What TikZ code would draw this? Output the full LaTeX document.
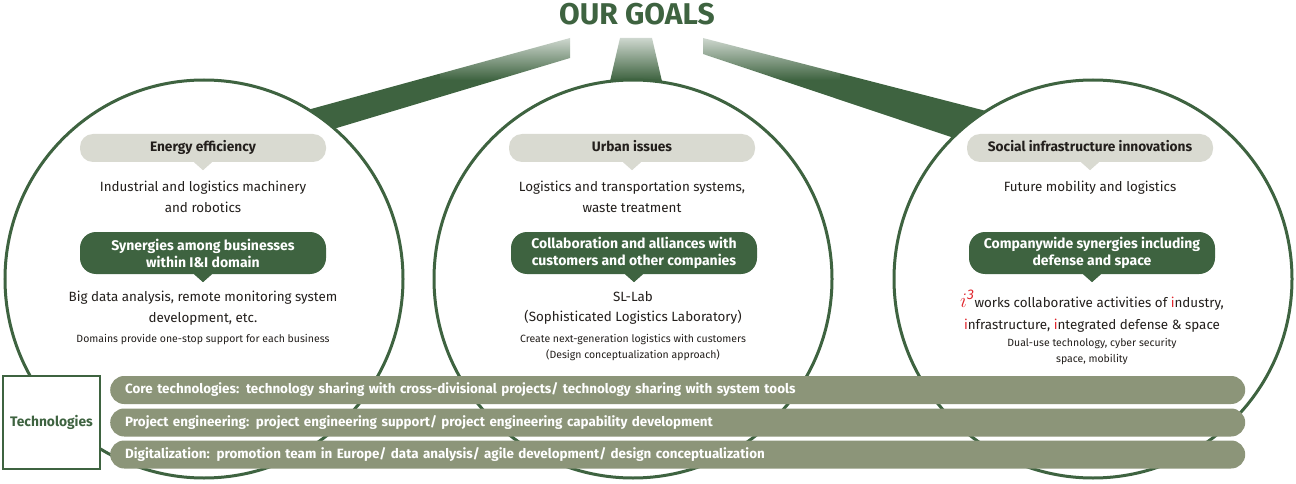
\documentclass[tikz,border=0pt]{standalone}
\usepackage{fontspec}
\setmainfont{Fira Sans}
\usepackage{tikz}
\usetikzlibrary{positioning,fadings}

\definecolor{goalgreen}{HTML}{3E6340}
\definecolor{pillgrey}{HTML}{D9DAD1}
\definecolor{barolive}{HTML}{8C9579}
\definecolor{textdark}{HTML}{231F1C}
\definecolor{ired}{HTML}{E0242B}

\begin{document}
\begin{tikzpicture}[
x=1pt, y=-1pt,
goal-circle/.style = {circle, draw=goalgreen, line width=3pt, fill=white, minimum size=398pt, inner sep=0pt},
topic-pill/.style = {rounded corners=13pt, fill=pillgrey, minimum width=246pt, minimum height=28pt, inner sep=0pt, text height=10pt, text depth=2pt, text=textdark, font=\bfseries\fontsize{13.7}{15}\selectfont},
way-pill/.style = {rounded corners=16pt, fill=goalgreen, minimum width=246pt, minimum height=42pt, inner sep=0pt, text=white, align=center, font=\bfseries\fontsize{14}{17}\selectfont},
body-text/.style = {align=center, inner sep=0pt, text=textdark, font=\fontsize{13.4}{21}\selectfont},
note-text/.style = {align=center, inner sep=0pt, text=textdark, font=\fontsize{10.5}{16}\selectfont},
tech-bar/.style = {anchor=west, rounded corners=14pt, fill=barolive, minimum height=28pt, inner xsep=15pt, inner ysep=0pt, text width=1105pt, align=left, text=white, font=\bfseries\fontsize{13.4}{15}\selectfont}
]
\useasboundingbox (0,0) rectangle (1296,484);

% beams
\fill[goalgreen] (570,38) -- (300,112) -- (330,130) -- (570,58) -- cycle;
\fill[goalgreen] (620,38) -- (652,38) -- (664,90) -- (608,90) -- cycle;
\fill[goalgreen] (703,38) -- (990,112) -- (960,140) -- (703,54) -- cycle;
\fill[white, path fading=south] (440,24) rectangle (840,80);

\node[text=goalgreen, font=\bfseries\fontsize{30}{30}\selectfont] (goals) at (637,14) {OUR GOALS};

% circles
\node[goal-circle] (c-l) at (204,279) {};
\node[goal-circle] (c-m) at (633,279) {};
\node[goal-circle] (c-r) at (1093,279) {};

% pills
\node[topic-pill] (t-l) at (203,148) {Energy efficiency};
\node[topic-pill] (t-m) at (632,148) {Urban issues};
\node[topic-pill] (t-r) at (1090,148) {Social infrastructure innovations};
\node[way-pill] (w-l) at (203,253) {Synergies among businesses\\within I\&I domain};
\node[way-pill] (w-m) at (634,253) {Collaboration and alliances with\\customers and other companies};
\node[way-pill] (w-r) at (1092,253) {Companywide synergies including\\defense and space};
\foreach \p/\c in {t-l/pillgrey, t-m/pillgrey, t-r/pillgrey, w-l/goalgreen, w-m/goalgreen, w-r/goalgreen}
  \fill[\c] ([xshift=-9pt]\p.south) -- ([xshift=9pt]\p.south) -- ([yshift=-8pt]\p.south) -- cycle;

% texts
\node[body-text] (b-l1) at (203,197) {Industrial and logistics machinery\\and robotics};
\node[body-text] (b-m1) at (632,197) {Logistics and transportation systems,\\waste treatment};
\node[body-text] (b-r1) at (1090,187.5) {Future mobility and logistics};
\node[body-text] (b-l2) at (203,308) {Big data analysis, remote monitoring system\\development, etc.};
\node[body-text, font=\fontsize{13.4}{20}\selectfont] (b-m2) at (633,308) {SL-Lab\\(Sophisticated Logistics Laboratory)};
\node[body-text, font=\fontsize{13.4}{22}\selectfont] (b-r2) at (1092,311) {\textcolor{ired}{\fontsize{20}{20}\selectfont$i^{\mathit{3}}$}works collaborative activities of \textcolor{ired}{i}ndustry,\\\textcolor{ired}{i}nfrastructure, \textcolor{ired}{i}ntegrated defense \& space};
\node[note-text] (n-l) at (203,340) {Domains provide one-stop support for each business};
\node[note-text] (n-m) at (633,348) {Create next-generation logistics with customers\\(Design conceptualization approach)};
\node[note-text] (n-r) at (1092,352) {Dual-use technology, cyber security\\space, mobility};

% technologies
\node[draw=goalgreen, line width=2pt, fill=white, minimum width=97pt, minimum height=93pt, text=goalgreen, font=\bfseries\fontsize{13.8}{15}\selectfont] (tech) at (51.5,422.5) {Technologies};
\node[tech-bar] (core) at (110,390) {Core technologies: technology sharing with cross-divisional projects/ technology sharing with system tools};
\node[tech-bar] (proj) at (110,422.5) {Project engineering: project engineering support/ project engineering capability development};
\node[tech-bar] (digi) at (110,454.5) {Digitalization: promotion team in Europe/ data analysis/ agile development/ design conceptualization};

\end{tikzpicture}
\end{document}
